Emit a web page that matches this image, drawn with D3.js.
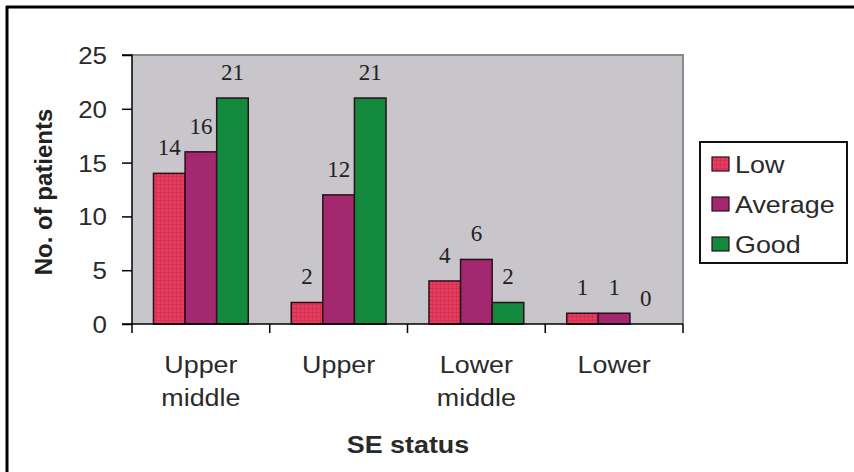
<!DOCTYPE html>
<html>
<head>
<meta charset="utf-8">
<script src="https://cdn.jsdelivr.net/npm/d3@7"></script>
<style>
  html, body { margin: 0; padding: 0; background: #fff; }
  svg { display: block; }
</style>
</head>
<body>
<svg id="chart" width="854" height="472"></svg>
<script>
// Patients by socio-economic status and outcome group
const categories = [["Upper", "middle"], ["Upper"], ["Lower", "middle"], ["Lower"]];
const seriesNames = ["Low", "Average", "Good"];
const lowValues = [14, 2, 4, 1];
const averageValues = [16, 12, 6, 1];
const goodValues = [21, 21, 2, 0];
const yTicks = [0, 5, 10, 15, 20, 25];
const seriesColors = ["#e63c5e", "#a3286f", "#12893c"];

const series = [lowValues, averageValues, goodValues];
const SANS = "'Liberation Sans', Arial, sans-serif";
const SERIF = "'Liberation Serif', 'Times New Roman', serif";

const svg = d3.select("#chart");

// Text drawn with a slight horizontal stretch
function label(parent, x, y, str, opts) {
  const o = Object.assign({ size: 24, weight: "normal", anchor: "start", sx: 1.1, family: SANS, fill: "#2a2a2a" }, opts || {});
  return parent.append("text")
    .attr("transform", `translate(${x},${y}) scale(${o.sx},1)`)
    .attr("text-anchor", o.anchor)
    .attr("font-family", o.family)
    .attr("font-size", o.size)
    .attr("font-weight", o.weight)
    .attr("fill", o.fill)
    .text(str);
}

// Grid pattern for the "Low" bars
const defs = svg.append("defs");
const pat = defs.append("pattern")
  .attr("id", "lowGrid").attr("patternUnits", "userSpaceOnUse")
  .attr("width", 4).attr("height", 4);
pat.append("rect").attr("width", 4).attr("height", 4).attr("fill", seriesColors[0]);
pat.append("path").attr("d", "M0,0.5H4M0.5,0V4")
  .attr("stroke", "#c62a4a").attr("stroke-width", 1).attr("opacity", 0.6);

// Outer frame (top and left edges)
svg.append("line").attr("x1", 6).attr("x2", 854).attr("y1", 7).attr("y2", 7)
  .attr("stroke", "#000").attr("stroke-width", 3);
svg.append("line").attr("x1", 7).attr("x2", 7).attr("y1", 6).attr("y2", 472)
  .attr("stroke", "#000").attr("stroke-width", 3);

const plot = { left: 132, right: 683, top: 55, bottom: 324 };

const x0 = d3.scaleBand().domain(d3.range(categories.length))
  .range([plot.left, plot.right]).paddingInner(0).paddingOuter(0);
const x1 = d3.scaleBand().domain(d3.range(series.length))
  .range([0, x0.bandwidth()]).paddingOuter(0.68).paddingInner(0);
const y = d3.scaleLinear().domain([0, 25]).range([plot.bottom, plot.top]);

// Plot area
svg.append("rect")
  .attr("x", plot.left).attr("y", plot.top)
  .attr("width", plot.right - plot.left).attr("height", plot.bottom - plot.top)
  .attr("fill", "#c8c5cb");
svg.append("path")
  .attr("d", `M${plot.left},${plot.top}H${plot.right}V${plot.bottom}`)
  .attr("fill", "none").attr("stroke", "#8a8a8c").attr("stroke-width", 2);

// Bars and value labels
series.forEach((vals, si) => {
  svg.append("g").selectAll("rect").data(vals).join("rect")
    .attr("x", (d, i) => x0(i) + x1(si))
    .attr("y", d => y(d))
    .attr("width", x1.bandwidth())
    .attr("height", d => y(0) - y(d))
    .attr("fill", si === 0 ? "url(#lowGrid)" : seriesColors[si])
    .attr("stroke", d => d > 0 ? "#2a1018" : "none")
    .attr("stroke-width", 1.5);

  svg.append("g").selectAll("text").data(vals).join("text")
    .attr("x", (d, i) => x0(i) + x1(si) + x1.bandwidth() / 2)
    .attr("y", d => y(d) - 18)
    .attr("text-anchor", "middle")
    .attr("font-family", SERIF)
    .attr("font-size", 23)
    .attr("fill", "#222")
    .text(d => d);
});

// Y axis
const yAxis = d3.axisLeft(y).tickValues(yTicks).tickSize(10).tickFormat("");
const gy = svg.append("g").attr("transform", `translate(${plot.left},0)`).call(yAxis);
gy.select(".domain").attr("stroke", "#000").attr("stroke-width", 1.5)
  .attr("d", `M-10,${plot.top}H0V${plot.bottom}H-10`);
gy.selectAll(".tick line").attr("stroke", "#000").attr("stroke-width", 1.5);
yTicks.forEach(t => label(svg, 107, y(t) + 9, String(t), { anchor: "end", size: 24, sx: 1.08 }));

// X axis baseline and category ticks
const gx = svg.append("g");
gx.append("line").attr("x1", plot.left).attr("x2", plot.right)
  .attr("y1", plot.bottom).attr("y2", plot.bottom)
  .attr("stroke", "#000").attr("stroke-width", 1.5);
gx.selectAll("line.tk").data(d3.range(categories.length + 1)).join("line")
  .attr("class", "tk")
  .attr("x1", i => plot.left + i * x0.bandwidth())
  .attr("x2", i => plot.left + i * x0.bandwidth())
  .attr("y1", plot.bottom).attr("y2", plot.bottom + 9)
  .attr("stroke", "#000").attr("stroke-width", 1.5);

categories.forEach((lines, i) => {
  lines.forEach((l, j) => {
    label(gx, x0(i) + x0.bandwidth() / 2, 373 + j * 33, l, { anchor: "middle", size: 24, sx: 1.12 });
  });
});

// Axis titles
label(svg, 408, 453, "SE status", { anchor: "middle", size: 24, weight: "bold", sx: 1.12 });
svg.append("text")
  .attr("transform", `translate(52,192) rotate(-90)`)
  .attr("text-anchor", "middle")
  .attr("font-family", SANS)
  .attr("font-size", 24).attr("font-weight", "bold").attr("fill", "#222")
  .text("No. of patients");

// Legend
const legend = svg.append("g");
legend.append("rect").attr("x", 700).attr("y", 142).attr("width", 147).attr("height", 121)
  .attr("fill", "#fff").attr("stroke", "#111").attr("stroke-width", 2);
seriesNames.forEach((name, i) => {
  const cy = 164 + i * 40;
  legend.append("rect").attr("x", 712).attr("y", cy - 7).attr("width", 17).attr("height", 14)
    .attr("fill", i === 0 ? "url(#lowGrid)" : seriesColors[i])
    .attr("stroke", "#2a1018").attr("stroke-width", 1.2);
  label(legend, 735, cy + 9, name, { size: 24, sx: 1.12 });
});
</script>
</body>
</html>
